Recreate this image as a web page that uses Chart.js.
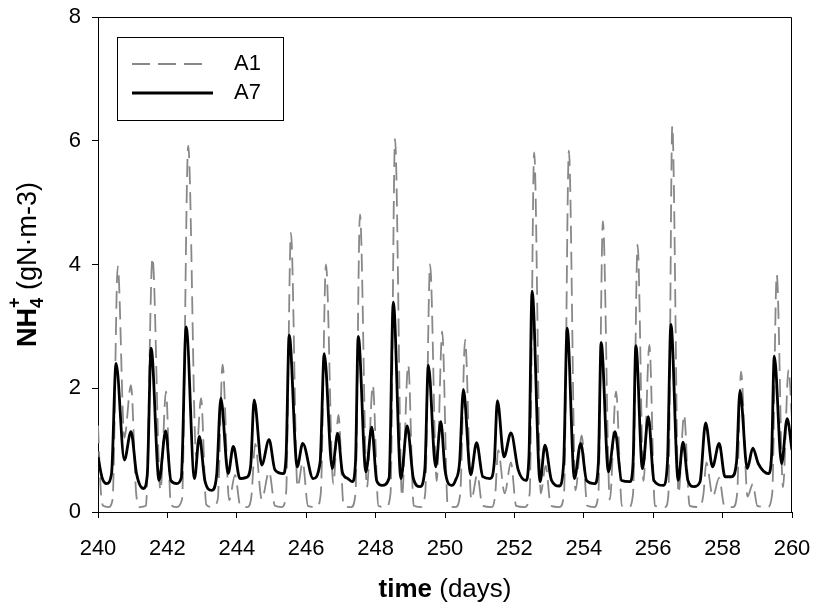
<!DOCTYPE html>
<html>
<head>
<meta charset="utf-8">
<script src="https://cdn.jsdelivr.net/npm/chart.js"></script>
<style>
  body { margin: 0; background: #fff; }
  canvas { display: block; }
</style>
</head>
<body>
<canvas id="nh4Chart" width="815" height="604"></canvas>
<script>
// values (day, gN/m3)
const a1Days = [240.0, 240.08, 240.15, 240.3, 240.42, 240.57, 240.76, 240.95, 241.1, 241.2, 241.38, 241.57, 241.8, 241.96,
  242.1, 242.25, 242.42, 242.6, 242.83, 242.97, 243.12, 243.3, 243.45, 243.59, 243.78, 243.95,
  244.1, 244.3, 244.42, 244.53, 244.72, 244.93, 245.1, 245.3, 245.42, 245.56, 245.75, 245.9,
  246.05, 246.3, 246.42, 246.57, 246.78, 246.93, 247.08, 247.3, 247.42, 247.55, 247.75, 247.92,
  248.08, 248.3, 248.43, 248.56, 248.76, 248.94, 249.1, 249.3, 249.43, 249.57, 249.76, 249.92,
  250.08, 250.3, 250.44, 250.58, 250.76, 250.93, 251.08, 251.35, 251.45, 251.53, 251.72, 251.9,
  252.05, 252.3, 252.44, 252.57, 252.76, 252.9, 253.05, 253.3, 253.43, 253.57, 253.76, 253.94,
  254.1, 254.3, 254.42, 254.55, 254.75, 254.93, 255.1, 255.3, 255.42, 255.55, 255.72, 255.89,
  256.05, 256.35, 256.44, 256.55, 256.73, 256.89, 257.05, 257.35, 257.45, 257.53, 257.72, 257.9,
  258.05, 258.3, 258.42, 258.53, 258.72, 258.87, 259.0, 259.3, 259.43, 259.56, 259.74, 259.9, 260.0];
const a1Vals = [1.4, 0.35, 0.1, 0.08, 0.2, 3.97, 1.2, 2.05, 0.3, 0.08, 0.1, 4.11, 0.35, 1.95,
  0.12, 0.08, 0.2, 5.92, 0.9, 1.84, 0.12, 0.08, 0.2, 2.38, 0.19, 0.6,
  0.1, 0.08, 0.25, 1.1, 0.2, 0.65, 0.1, 0.08, 0.3, 4.51, 0.4, 0.8,
  0.1, 0.08, 0.3, 4.0, 0.45, 1.57, 0.1, 0.08, 0.3, 4.81, 0.4, 2.05,
  0.1, 0.08, 0.3, 6.03, 0.25, 2.38, 0.1, 0.08, 0.3, 4.0, 0.5, 2.92,
  0.1, 0.08, 0.3, 2.78, 0.2, 0.6, 0.1, 0.08, 0.3, 1.0, 0.3, 0.8,
  0.1, 0.08, 0.3, 5.81, 0.3, 0.75, 0.1, 0.08, 0.3, 5.84, 0.35, 1.24,
  0.1, 0.08, 0.3, 4.7, 0.2, 1.95, 0.1, 0.08, 0.3, 4.32, 0.5, 2.7,
  0.1, 0.08, 0.3, 6.24, 0.3, 1.57, 0.1, 0.08, 0.3, 0.8, 0.25, 0.55,
  0.1, 0.08, 0.3, 2.27, 0.25, 0.45, 0.1, 0.08, 0.3, 3.84, 0.4, 2.3, 1.5];

const a7Days = [240.0, 240.12, 240.25, 240.39, 240.52, 240.76, 240.95, 241.11, 241.31, 241.42, 241.53, 241.76, 241.95,
  242.1, 242.27, 242.4, 242.54, 242.78, 242.92, 243.08, 243.28, 243.42, 243.54, 243.75, 243.9,
  244.09, 244.28, 244.4, 244.5, 244.72, 244.93, 245.1, 245.34, 245.42, 245.51, 245.74, 245.9,
  246.2, 246.4, 246.52, 246.75, 246.91, 247.04, 247.2, 247.33, 247.42, 247.5, 247.72, 247.89,
  248.03, 248.19, 248.39, 248.51, 248.73, 248.91, 249.09, 249.28, 249.42, 249.52, 249.73, 249.88,
  250.0, 250.19, 250.3, 250.42, 250.53, 250.74, 250.91, 251.09, 251.3, 251.42, 251.51, 251.7, 251.9,
  252.11, 252.33, 252.42, 252.51, 252.74, 252.88, 253.07, 253.29, 253.42, 253.52, 253.73, 253.91,
  254.08, 254.32, 254.42, 254.5, 254.71, 254.9, 255.09, 255.33, 255.42, 255.5, 255.69, 255.86,
  256.02, 256.29, 256.41, 256.51, 256.72, 256.86, 257.0, 257.17, 257.35, 257.51, 257.71, 257.9,
  258.07, 258.26, 258.4, 258.5, 258.71, 258.87, 259.03, 259.32, 259.41, 259.49, 259.7, 259.86, 260.0];
const a7Vals = [0.89, 0.55, 0.46, 0.62, 2.4, 0.84, 1.3, 0.62, 0.38, 0.6, 2.65, 0.51, 1.31,
  0.51, 0.46, 0.55, 2.99, 0.54, 1.22, 0.51, 0.35, 0.6, 1.84, 0.62, 1.06,
  0.54, 0.56, 0.75, 1.81, 0.76, 1.17, 0.68, 0.62, 0.9, 2.86, 0.73, 1.11,
  0.54, 0.8, 2.56, 0.7, 1.27, 0.65, 0.54, 0.49, 0.8, 2.84, 0.65, 1.37,
  0.51, 0.43, 0.55, 3.39, 0.54, 1.39, 0.54, 0.41, 0.7, 2.37, 0.73, 1.46,
  0.68, 0.43, 0.51, 0.8, 1.98, 0.6, 1.12, 0.57, 0.54, 0.8, 1.8, 0.89, 1.28,
  0.68, 0.51, 0.9, 3.57, 0.49, 1.08, 0.51, 0.42, 0.8, 2.97, 0.54, 1.11,
  0.51, 0.46, 0.8, 2.74, 0.65, 1.3, 0.51, 0.49, 0.8, 2.69, 0.7, 1.54,
  0.51, 0.43, 0.8, 3.03, 0.51, 1.13, 0.51, 0.41, 0.49, 1.44, 0.73, 1.11,
  0.57, 0.57, 0.8, 1.96, 0.7, 1.03, 0.78, 0.62, 0.9, 2.52, 0.78, 1.51, 1.0];

const seriesNames = ['A1', 'A7'];
const xTitleBold = 'time';
const xTitleRest = ' (days)';

const FONT = '"Liberation Sans", Arial, sans-serif';

function toPoints(days, vals) {
  return days.map((d, i) => ({ x: d, y: vals[i] }));
}

// fixed axis sizes, no extra label overflow padding
function fixScale(size) {
  return s => {
    if (s.isHorizontal()) s.height = size; else s.width = size;
    s.paddingTop = 0; s.paddingBottom = 0; s.paddingLeft = 0; s.paddingRight = 0;
  };
}

// frame, legend box and axis titles
const extrasPlugin = {
  id: 'extras',
  afterDraw(chart) {
    const ctx = chart.ctx;
    const a = chart.chartArea;
    ctx.save();

    // top and right border of the plot
    ctx.strokeStyle = '#000';
    ctx.lineWidth = 1;
    ctx.beginPath();
    ctx.moveTo(Math.round(a.left) + 0.5, Math.round(a.top) + 0.5);
    ctx.lineTo(Math.round(a.right) - 0.5, Math.round(a.top) + 0.5);
    ctx.lineTo(Math.round(a.right) - 0.5, Math.round(a.bottom) + 0.5);
    ctx.stroke();

    // legend
    ctx.strokeRect(117.5, 37.5, 166, 83);
    ctx.strokeStyle = '#888';
    ctx.lineWidth = 1.8;
    ctx.setLineDash([18, 8]);
    ctx.beginPath();
    ctx.moveTo(132, 64);
    ctx.lineTo(208, 64);
    ctx.stroke();
    ctx.setLineDash([]);
    ctx.strokeStyle = '#000';
    ctx.lineWidth = 2.8;
    ctx.beginPath();
    ctx.moveTo(132, 93);
    ctx.lineTo(213, 93);
    ctx.stroke();
    ctx.fillStyle = '#000';
    ctx.font = '22px ' + FONT;
    ctx.textBaseline = 'middle';
    ctx.textAlign = 'left';
    ctx.fillText(seriesNames[0], 234, 64);
    ctx.fillText(seriesNames[1], 234, 93);

    // x title
    ctx.textBaseline = 'alphabetic';
    ctx.font = 'bold 26px ' + FONT;
    const wb = ctx.measureText(xTitleBold).width;
    ctx.font = '26px ' + FONT;
    const wr = ctx.measureText(xTitleRest).width;
    let x0 = (a.left + a.right) / 2 - (wb + wr) / 2;
    ctx.font = 'bold 26px ' + FONT;
    ctx.fillText(xTitleBold, x0, 597);
    ctx.font = '26px ' + FONT;
    ctx.fillText(xTitleRest, x0 + wb, 597);

    // y title, rotated, NH4+ with sub and superscript
    const parts = [
      { t: 'NH', f: 'bold 27px ', dy: 0 },
      { t: '4', f: 'bold 18px ', dy: 7 },
      { t: '+', f: 'bold 18px ', dy: -16 },
      { t: ' (gN\u00b7m-3)', f: '27px ', dy: 0 }
    ];
    ctx.translate(36, (a.top + a.bottom) / 2);
    ctx.rotate(-Math.PI / 2);
    const widths = parts.map(p => { ctx.font = p.f + FONT; return ctx.measureText(p.t).width; });
    const total = widths[0] + Math.max(widths[1], widths[2]) + widths[3];
    let cx = -total / 2;
    ctx.font = parts[0].f + FONT; ctx.fillText(parts[0].t, cx, 0); cx += widths[0];
    ctx.font = parts[1].f + FONT; ctx.fillText(parts[1].t, cx, parts[1].dy);
    ctx.font = parts[2].f + FONT; ctx.fillText(parts[2].t, cx, parts[2].dy);
    cx += Math.max(widths[1], widths[2]);
    ctx.font = parts[3].f + FONT; ctx.fillText(parts[3].t, cx, 0);

    ctx.restore();
  }
};

function createChart() {
  const ctx = document.getElementById('nh4Chart').getContext('2d');
  new Chart(ctx, {
    type: 'line',
    data: {
      datasets: [
        {
          label: seriesNames[1],
          data: toPoints(a7Days, a7Vals),
          borderColor: '#000',
          borderWidth: 2.8,
          pointRadius: 0,
          fill: false,
          cubicInterpolationMode: 'monotone',
          order: 0
        },
        {
          label: seriesNames[0],
          data: toPoints(a1Days, a1Vals),
          borderColor: '#888',
          borderWidth: 1.8,
          borderDash: [18, 8],
          pointRadius: 0,
          fill: false,
          cubicInterpolationMode: 'monotone',
          order: 1
        }
      ]
    },
    options: {
      responsive: false,
      animation: false,
      layout: { padding: { top: 17, right: 23, left: 0, bottom: 0 } },
      plugins: { legend: { display: false }, tooltip: { enabled: false } },
      scales: {
        x: {
          type: 'linear',
          min: 240,
          max: 260,
          ticks: { stepSize: 2, color: '#000', font: { family: FONT, size: 22 }, padding: 18, maxRotation: 0, autoSkip: false },
          grid: { drawOnChartArea: false, tickLength: 6, tickColor: '#000' },
          border: { color: '#000', width: 1 },
          afterFit: fixScale(92)
        },
        y: {
          min: 0,
          max: 8,
          ticks: { stepSize: 2, color: '#000', font: { family: FONT, size: 22 }, padding: 11 },
          grid: { drawOnChartArea: false, tickLength: 6, tickColor: '#000' },
          border: { color: '#000', width: 1 },
          afterFit: fixScale(98)
        }
      }
    },
    plugins: [extrasPlugin]
  });
}

createChart();
</script>
</body>
</html>
